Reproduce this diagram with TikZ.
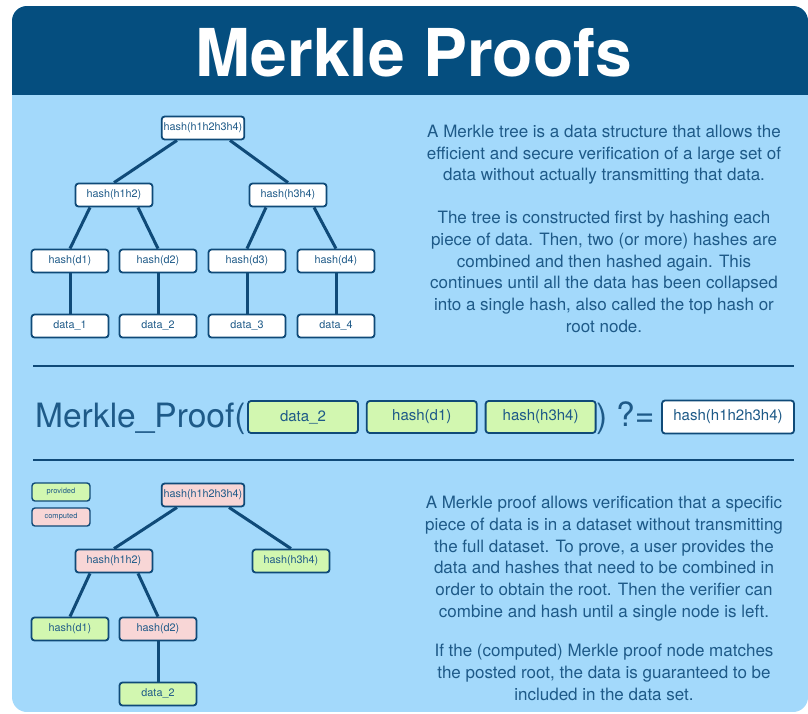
\documentclass[tikz,border=0pt]{standalone}
\usepackage{fontspec}
\setmainfont{TeX Gyre Heros}
\usetikzlibrary{positioning}

\definecolor{headblue}{HTML}{054E7F}
\definecolor{panelblue}{HTML}{A3D9FB}
\definecolor{nodeline}{HTML}{0F4A78}
\definecolor{inktext}{HTML}{1E5A88}
\definecolor{givengreen}{HTML}{D2F7B0}
\definecolor{derivedpink}{HTML}{F8D6D6}

\begin{document}
\begin{tikzpicture}[
    x=1pt, y=-1pt,
    node distance = 7pt,
    hashbox/.style = {rectangle, rounded corners=3pt, draw=nodeline, line width=1.8pt, fill=white, text=inktext, font=\fontsize{10.8}{12}\selectfont, minimum width=77pt, minimum height=23pt, inner sep=2pt},
    given/.style = {fill=givengreen},
    derived/.style = {fill=derivedpink},
    keybox/.style = {hashbox, line width=1.4pt, minimum width=58pt, minimum height=18pt, font=\fontsize{7.5}{9}\selectfont},
    proofbox/.style = {hashbox, minimum width=110pt, minimum height=32pt, font=\fontsize{15}{17}\selectfont},
    blurb/.style = {text=inktext, align=center, inner sep=0pt, font=\fontsize{17}{21.7}\selectfont},
    bigtext/.style = {text=inktext, inner sep=0pt, font=\fontsize{33.5}{40}\selectfont},
    rule/.style = {draw=nodeline, line width=1.3pt},
    edge/.style = {draw=nodeline, line width=3pt}
  ]
  \useasboundingbox (0,0) rectangle (808,713);
  \fill[white] (0,0) rectangle (808,713);
  \begin{scope}
    \clip[rounded corners=15pt] (12,6) rectangle (808,712);
    \fill[panelblue] (12,6) rectangle (808,712);
    \fill[headblue] (12,6) rectangle (808,95);
  \end{scope}
  \node (title) [anchor=base, text=white, font=\fontsize{66}{70}\selectfont\bfseries] at (414,76) {Merkle Proofs};

  % full tree
  \node (top) [hashbox] at (203,128) {hash(h1h2h3h4)};
  \node (h12) [hashbox] at (114,195) {hash(h1h2)};
  \node (h34) [hashbox] at (288,195) {hash(h3h4)};
  \node (d1) [hashbox] at (70,261) {hash(d1)};
  \node (d2) [hashbox] at (158,261) {hash(d2)};
  \node (d3) [hashbox] at (247,261) {hash(d3)};
  \node (d4) [hashbox] at (336,261) {hash(d4)};
  \node (data1) [hashbox] at (70,326) {data\_1};
  \node (data2) [hashbox] at (158,326) {data\_2};
  \node (data3) [hashbox] at (247,326) {data\_3};
  \node (data4) [hashbox] at (336,326) {data\_4};
  \begin{scope}[every path/.style=edge]
    \path ([xshift=-26pt]top.south) -- (h12.north);
    \path ([xshift=27pt]top.south) -- (h34.north);
    \path ([xshift=-24pt]h12.south) -- (d1.north);
    \path ([xshift=24pt]h12.south) -- (d2.north);
    \path ([xshift=-22pt]h34.south) -- (d3.north);
    \path ([xshift=26pt]h34.south) -- (d4.north);
    \path (d1) -- (data1);
    \path (d2) -- (data2);
    \path (d3) -- (data3);
    \path (d4) -- (data4);
  \end{scope}

  \node (tree text) [blurb, anchor=north] at (604,125) {A Merkle tree is a data structure that allows the\\
    efficient and secure verification of a large set of\\
    data without actually transmitting that data.};
  \node (build text) [blurb, anchor=north] at (604,211) {The tree is constructed first by hashing each\\
    piece of data. Then, two (or more) hashes are\\
    combined and then hashed again. This\\
    continues until all the data has been collapsed\\
    into a single hash, also called the top hash or\\
    root node.};

  \draw[rule] (33,366) -- (794,366);

  % proof call
  \node (call) [bigtext, anchor=base west] at (35,427) {Merkle\_Proof(};
  \node (p1) [proofbox, given] at (303,417) {data\_2};
  \node (p2) [proofbox, given, right=of p1] {hash(d1)};
  \node (p3) [proofbox, given, right=of p2] {hash(h3h4)};
  \node (close) [bigtext, anchor=base west] at (596,427) {)};
  \node (check) [bigtext, anchor=base west] at (616,426) {?=};
  \node (root) [proofbox, minimum width=132pt, minimum height=33pt] at (728,417) {hash(h1h2h3h4)};

  \draw[rule] (33,460) -- (794,460);

  % proof tree
  \node (key given) [keybox, given] at (61,492) {provided};
  \node (key derived) [keybox, derived] at (61,517) {computed};
  \node (ptop) [hashbox, derived] at (203,495) {hash(h1h2h3h4)};
  \node (ph12) [hashbox, derived] at (114,561) {hash(h1h2)};
  \node (ph34) [hashbox, given] at (291,561) {hash(h3h4)};
  \node (pd1) [hashbox, given] at (70,629) {hash(d1)};
  \node (pd2) [hashbox, derived] at (158,629) {hash(d2)};
  \node (pdata2) [hashbox, given] at (158,694) {data\_2};
  \begin{scope}[every path/.style=edge]
    \path ([xshift=-26pt]ptop.south) -- (ph12.north);
    \path ([xshift=26pt]ptop.south) -- (ph34.north);
    \path ([xshift=-24pt]ph12.south) -- (pd1.north);
    \path ([xshift=24pt]ph12.south) -- (pd2.north);
    \path (pd2) -- (pdata2);
  \end{scope}

  \node (proof text) [blurb, anchor=north] at (604,496) {A Merkle proof allows verification that a specific\\
    piece of data is in a dataset without transmitting\\
    the full dataset. To prove, a user provides the\\
    data and hashes that need to be combined in\\
    order to obtain the root. Then the verifier can\\
    combine and hash until a single node is left.};
  \node (match text) [blurb, anchor=north] at (604,644) {If the (computed) Merkle proof node matches\\
    the posted root, the data is guaranteed to be\\
    included in the data set.};
\end{tikzpicture}
\end{document}
